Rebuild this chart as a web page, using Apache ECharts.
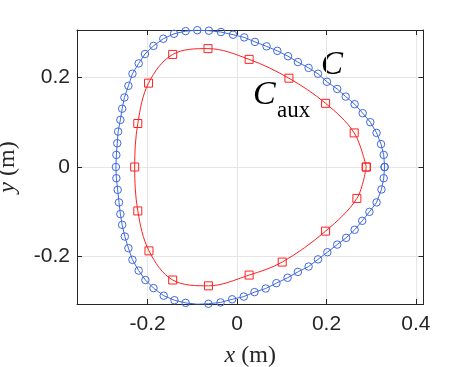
<!DOCTYPE html>
<html>
<head>
<meta charset="utf-8">
<script src="https://cdn.jsdelivr.net/npm/echarts@6/dist/echarts.min.js"></script>
<style>
	html, body { margin: 0; padding: 0; background: #fff; }
	#chart { width: 468px; height: 367px; }
</style>
</head>
<body>
<div id="chart"></div>
<script>
//曲线 C 的横坐标
var blueX = [0.330, 0.328, 0.322, 0.312, 0.298, 0.281, 0.263, 0.243, 0.224, 0.201, 0.181, 0.160, 0.136, 0.114, 0.090, 0.066, 0.040, 0.016,
	-0.009, -0.036, -0.063, -0.089, -0.115, -0.141, -0.165, -0.187, -0.206, -0.220, -0.234, -0.243, -0.252, -0.257, -0.261, -0.266, -0.268, -0.270,
	-0.271, -0.270, -0.267, -0.264, -0.261, -0.257, -0.251, -0.243, -0.234, -0.220, -0.205, -0.187, -0.164, -0.140, -0.115, -0.089, -0.064, -0.037,
	-0.011, 0.015, 0.039, 0.064, 0.088, 0.113, 0.136, 0.160, 0.181, 0.202, 0.224, 0.244, 0.263, 0.280, 0.296, 0.312, 0.323, 0.328, 0.330];
//曲线 C 的纵坐标
var blueY = [0.000, 0.027, 0.051, 0.076, 0.100, 0.120, 0.140, 0.157, 0.174, 0.190, 0.208, 0.221, 0.234, 0.247, 0.259, 0.269, 0.279, 0.289,
	0.295, 0.301, 0.304, 0.305, 0.303, 0.297, 0.286, 0.270, 0.252, 0.231, 0.208, 0.181, 0.155, 0.130, 0.105, 0.079, 0.053, 0.027,
	0.000, -0.025, -0.051, -0.079, -0.105, -0.129, -0.155, -0.181, -0.207, -0.231, -0.252, -0.270, -0.287, -0.297, -0.303, -0.306, -0.305, -0.302,
	-0.295, -0.289, -0.279, -0.271, -0.259, -0.247, -0.234, -0.222, -0.206, -0.190, -0.173, -0.158, -0.140, -0.120, -0.100, -0.079, -0.050, -0.025, 0.000];
//曲线 C_aux 的横坐标
var redX = [0.289, 0.262, 0.198, 0.116, 0.027, -0.065, -0.144, -0.198, -0.222, -0.229, -0.222, -0.197, -0.144, -0.064, 0.027, 0.101, 0.198, 0.268, 0.289];
//曲线 C_aux 的纵坐标
var redY = [0.000, 0.076, 0.142, 0.198, 0.240, 0.264, 0.251, 0.187, 0.097, 0.000, -0.098, -0.187, -0.252, -0.265, -0.241, -0.212, -0.143, -0.070, 0.000];
//坐标轴范围
var xRange = [-0.358, 0.417];
var yRange = [-0.3055, 0.3055];

function pairs(xs, ys) {
	var list = [];
	for (var i = 0; i < xs.length; i++) {
		list.push([xs[i], ys[i]]);
	}
	return list;
}

var axisColor = '#262626';
var tickFont = 'Liberation Sans';
var serif = 'Liberation Serif';

function valueAxis(range, pos, show, splitNumber) {
	return {
		type: 'value',
		position: pos,
		min: range[0],
		max: range[1],
		splitNumber: splitNumber,
		axisLine: { show: true, onZero: false, lineStyle: { color: axisColor, width: 1 } },
		axisTick: { show: true, inside: true, length: 5, lineStyle: { color: axisColor } },
		axisLabel: {
			show: show,
			showMinLabel: false,
			showMaxLabel: false,
			color: axisColor,
			fontFamily: tickFont,
			fontSize: 21
		},
		splitLine: { show: show, lineStyle: { color: '#e6e6e6', width: 1 } }
	};
}

var nameStyle = {
	fontFamily: serif, fontSize: 24, color: axisColor,
	rich: { i: { fontFamily: serif, fontStyle: 'italic', fontSize: 24, color: axisColor } }
};

var xBottom = valueAxis(xRange, 'bottom', true, 4);
xBottom.axisLabel.margin = 10;
xBottom.name = '{i|x} (m)';
xBottom.nameLocation = 'middle';
xBottom.nameGap = 40;
xBottom.nameTextStyle = nameStyle;
var xTop = valueAxis(xRange, 'top', false, 4);

var yLeft = valueAxis(yRange, 'left', true, 3);
yLeft.axisLabel.margin = 7;
yLeft.name = '{i|y} (m)';
yLeft.nameLocation = 'middle';
yLeft.nameGap = 57;
yLeft.nameRotate = 90;
yLeft.nameTextStyle = nameStyle;
var yRight = valueAxis(yRange, 'right', false, 3);

var chart = echarts.init(document.getElementById('chart'), null, { renderer: 'canvas' });
chart.setOption({
	animation: false,
	backgroundColor: '#fff',
	grid: { left: 77, top: 30, right: 44.5, bottom: 63, containLabel: false, outerBoundsMode: 'none' },
	xAxis: [xBottom, xTop],
	yAxis: [yLeft, yRight],
	series: [{
		//曲线 C
		type: 'line',
		data: pairs(blueX, blueY),
		symbol: 'circle',
		symbolSize: 7.5,
		showAllSymbol: true,
		lineStyle: { color: '#4169e1', width: 1 },
		itemStyle: { color: 'rgba(0,0,0,0)', borderColor: '#4169e1', borderWidth: 1 },
		z: 3
	}, {
		//曲线 C_aux
		type: 'line',
		data: pairs(redX, redY),
		smooth: 0.35,
		symbol: 'rect',
		symbolSize: 8,
		showAllSymbol: true,
		lineStyle: { color: '#ff2020', width: 1 },
		itemStyle: { color: 'rgba(0,0,0,0)', borderColor: '#ff2020', borderWidth: 1 },
		z: 2
	}],
	graphic: [{
		type: 'text',
		left: 321,
		top: 49,
		style: { text: 'C', font: 'italic 33px "Liberation Serif"', fill: '#000' }
	}, {
		type: 'text',
		left: 253,
		top: 78,
		style: { text: 'C', font: 'italic 34px "Liberation Serif"', fill: '#000' }
	}, {
		type: 'text',
		left: 277,
		top: 99,
		style: { text: 'aux', font: '23px "Liberation Serif"', fill: '#000' }
	}]
});
</script>
</body>
</html>
